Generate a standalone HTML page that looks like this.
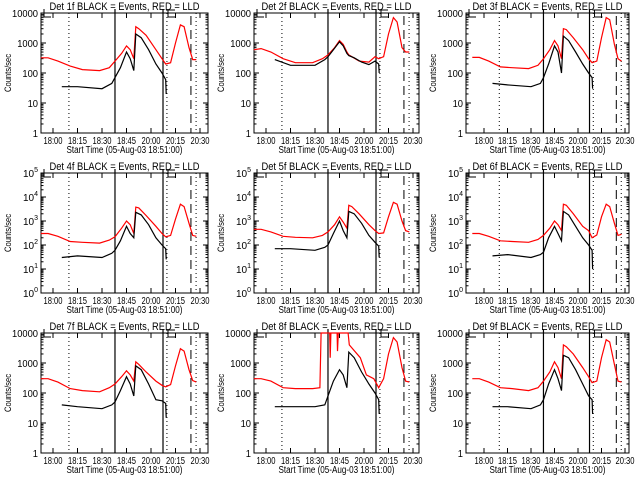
<!DOCTYPE html>
<html><head><meta charset="utf-8">
<style>
html,body{margin:0;padding:0;background:#fff;}
svg{display:block;font-family:"Liberation Sans",sans-serif;}
</style></head>
<body>
<svg id="chart" width="640" height="480" viewBox="0 0 640 480" xmlns="http://www.w3.org/2000/svg">
<rect x="0" y="0" width="640" height="480" fill="#fff"/>
</svg>
<script>
// time positions in tick-interval units (0 = first tick "18:00")
const tickLabels = ["18:00","18:15","18:30","18:45","20:00","20:15","20:30"];
const tRed = [-0.5,-0.2,0.2,0.7,1.2,1.9,2.3,2.53,2.8,3.0,3.15,3.3,3.38,3.5,3.8,4.2,4.45,4.6,4.8,5.0,5.2,5.35,5.55,5.7,5.85];
const tBlk = [0.36,1,2,2.4,2.53,2.75,3.0,3.15,3.3,3.38,3.6,3.9,4.2,4.45,4.6,4.62];
const tRed8 = [-0.5,-0.2,0.2,0.7,1.2,1.9,2.2,2.25,2.6,2.62,2.65,2.9,2.92,2.95,3.35,3.4,3.85,4.1,4.4,4.6,4.8,5.0,5.2,5.35,5.55,5.7,5.85];
const vDotted = [0.65,4.65,5.84];
const vSolid = [2.53,4.49];
const vDashed = [5.63];
const red1 = [320,320,250,170,130,120,150,250,450,800,600,300,3500,3000,1800,600,300,200,220,1000,4000,3500,700,280,280];
const blk1 = [35,35,30,45,70,150,500,300,120,2000,1500,600,200,100,60,20];
const red2 = [600,650,500,300,220,220,300,400,700,1200,900,500,400,350,250,230,350,300,350,2000,7000,5000,700,500,500];
const blk2 = [280,180,180,280,350,600,1100,800,450,380,320,230,190,250,200,100];
const red3 = [330,330,250,160,150,140,180,300,600,1200,800,300,3000,2800,1500,600,300,220,250,1500,7000,6000,900,300,250];
const blk3 = [45,40,35,45,70,200,800,500,100,1700,1200,500,200,100,70,30];
const red4 = [300,300,230,140,130,120,160,220,500,1000,700,300,3800,3500,1700,600,300,220,250,1200,5000,4000,800,250,230];
const blk4 = [30,35,30,45,60,150,600,300,200,2300,1800,700,200,100,70,25];
const red5 = [450,450,350,230,210,200,250,350,700,1500,900,500,4500,4000,2000,700,400,300,320,1500,6000,5000,1000,400,350];
const blk5 = [70,70,60,80,100,300,1000,400,200,2500,2000,800,250,130,90,30];
const red6 = [300,300,230,150,140,130,170,250,500,1000,700,400,5000,4500,2000,600,400,200,260,1500,5000,4000,800,250,280];
const blk6 = [35,40,30,40,50,200,600,300,150,2500,1800,600,200,100,60,10];
const red7 = [300,300,230,140,120,110,150,200,350,550,400,250,1100,900,500,250,180,160,190,800,3000,2500,600,260,230];
const blk7 = [40,35,30,40,50,120,350,200,80,800,600,200,60,55,45,15];
const red8 = [300,300,250,150,140,140,150,10000,10000,1500,10000,10000,2500,10000,10000,4000,1500,400,300,150,300,2000,7000,5000,700,250,230];
const blk8 = [35,35,35,40,80,250,600,400,150,2300,1500,500,200,100,60,20];
const red9 = [300,300,230,150,140,120,150,250,500,1100,700,300,4000,3500,2000,700,350,220,250,1500,6000,5000,900,250,230];
const blk9 = [35,35,30,40,60,200,600,300,120,1800,1500,600,200,80,60,20];

const NS = "http://www.w3.org/2000/svg";
const svg = document.getElementById("chart");
const cols = [{l:41,r:208,t0:53,t6:200},{l:254,r:419,t0:266,t6:413},{l:466,r:629,t0:484,t6:625}];
const rows = [{top:13,bot:133,dec:4},{top:173,bot:293,dec:5},{top:333,bot:453,dec:4}];
const panels = [
 {n:1,red:red1,blk:blk1},{n:2,red:red2,blk:blk2},{n:3,red:red3,blk:blk3},
 {n:4,red:red4,blk:blk4},{n:5,red:red5,blk:blk5},{n:6,red:red6,blk:blk6},
 {n:7,red:red7,blk:blk7},{n:8,red:red8,blk:blk8,tr:tRed8},{n:9,red:red9,blk:blk9}];

function mk(tag, attrs, parent){
  const e=document.createElementNS(NS,tag);
  for(const k in attrs) e.setAttribute(k,attrs[k]);
  (parent||svg).appendChild(e); return e;
}

panels.forEach((p,i)=>{
  const c=cols[i%3], r=rows[Math.floor(i/3)];
  const g=mk("g",{});
  
  
  const sx=v=>c.t0+v*(c.t6-c.t0)/6;
  const sy=v=>{const lv=Math.log10(Math.max(1,Math.min(Math.pow(10,r.dec),v)));return r.bot-lv*(r.bot-r.top)/r.dec;};
  const ti=mk("text",{x:(c.l+c.r)/2,y:r.top-3,"text-anchor":"middle","font-size":"11",textLength:"150",lengthAdjust:"spacingAndGlyphs"},g);
  ti.textContent="Det "+p.n+"f BLACK = Events, RED = LLD";
  
  
  const fr=mk("rect",{x:c.l,y:r.top,width:c.r-c.l,height:r.bot-r.top,fill:"none",stroke:"#000","stroke-width":"1"},g);
  
  
  for(let d=0;d<=r.dec;d++){
    const y=sy(Math.pow(10,d));
    mk("line",{x1:c.l,x2:c.l+5,y1:y,y2:y,stroke:"#000"},g);
    mk("line",{x1:c.r,x2:c.r-5,y1:y,y2:y,stroke:"#000"},g);
    if(d<r.dec){for(let m=2;m<10;m++){const ym=sy(m*Math.pow(10,d));
      mk("line",{x1:c.l,x2:c.l+2.5,y1:ym,y2:ym,stroke:"#000"},g);
      mk("line",{x1:c.r,x2:c.r-2.5,y1:ym,y2:ym,stroke:"#000"},g);}}
    const tl=mk("text",{x:c.l-3,y:y+4,"text-anchor":"end","font-size":"10"},g);
    
    
    if(r.dec===5){tl.textContent="10";const s=mk("tspan",{dy:"-5","font-size":"7"},tl);s.textContent=String(d);}
    else {tl.textContent=String(Math.pow(10,d));const L=String(Math.pow(10,d)).length;tl.setAttribute("textLength",String(L*5.2));tl.setAttribute("lengthAdjust","spacingAndGlyphs");}
  }
  tickLabels.forEach((lab,k)=>{
    const x=sx(k);
    mk("line",{x1:x,x2:x,y1:r.bot,y2:r.bot-5,stroke:"#000"},g);
    mk("line",{x1:x,x2:x,y1:r.top,y2:r.top+5,stroke:"#000"},g);
    const tl=mk("text",{x:x,y:r.bot+11,"text-anchor":"middle","font-size":"10",textLength:"19",lengthAdjust:"spacingAndGlyphs"},g);
    tl.textContent=lab;
    
    
  });
  const xt=mk("text",{x:(c.l+c.r)/2,y:r.bot+20,"text-anchor":"middle","font-size":"10",textLength:"116",lengthAdjust:"spacingAndGlyphs"},g);
  xt.textContent="Start Time (05-Aug-03 18:51:00)";
  
  
  const yc=(r.top+r.bot)/2, yx=c.l-30;
  const yt=mk("text",{x:yx,y:yc,"text-anchor":"middle","font-size":"9",textLength:"38",lengthAdjust:"spacingAndGlyphs",transform:"rotate(-90 "+yx+" "+yc+")"},g);
  yt.textContent="Counts/sec";
  
  
  vDotted.forEach(v=>mk("line",{x1:sx(v),x2:sx(v),y1:r.top,y2:r.bot,stroke:"#000","stroke-dasharray":"1,3"},g));
  vSolid.forEach(v=>mk("line",{x1:sx(v),x2:sx(v),y1:r.top-4,y2:r.bot,stroke:"#000","stroke-width":"1.2"},g));
  vDashed.forEach(v=>mk("line",{x1:sx(v),x2:sx(v),y1:r.top+3,y2:r.bot,stroke:"#000","stroke-dasharray":"9,5"},g));
  mk("path",{d:"M"+(c.l+3)+" "+(r.top-4)+" V"+(r.top+4)+" H"+(c.l+10),fill:"none",stroke:"#000"},g);
  const bx=sx(4.49);
  mk("path",{d:"M"+(bx+3)+" "+(r.top-3)+" H"+(bx+12)+" M"+(bx+5)+" "+(r.top-3)+" V"+(r.top+4)+" H"+(bx+13),fill:"none",stroke:"#000"},g);
  const tr=p.tr||tRed;
  const rp=mk("polyline",{points:tr.map((t,k)=>sx(t).toFixed(1)+","+sy(p.red[k]).toFixed(1)).join(" "),fill:"none",stroke:"#ff0000","stroke-width":"1.2"},g);
  
  
  const bp=mk("polyline",{points:tBlk.map((t,k)=>sx(t).toFixed(1)+","+sy(p.blk[k]).toFixed(1)).join(" "),fill:"none",stroke:"#000","stroke-width":"1.2"},g);
  
  
});
</script>
</body></html>
